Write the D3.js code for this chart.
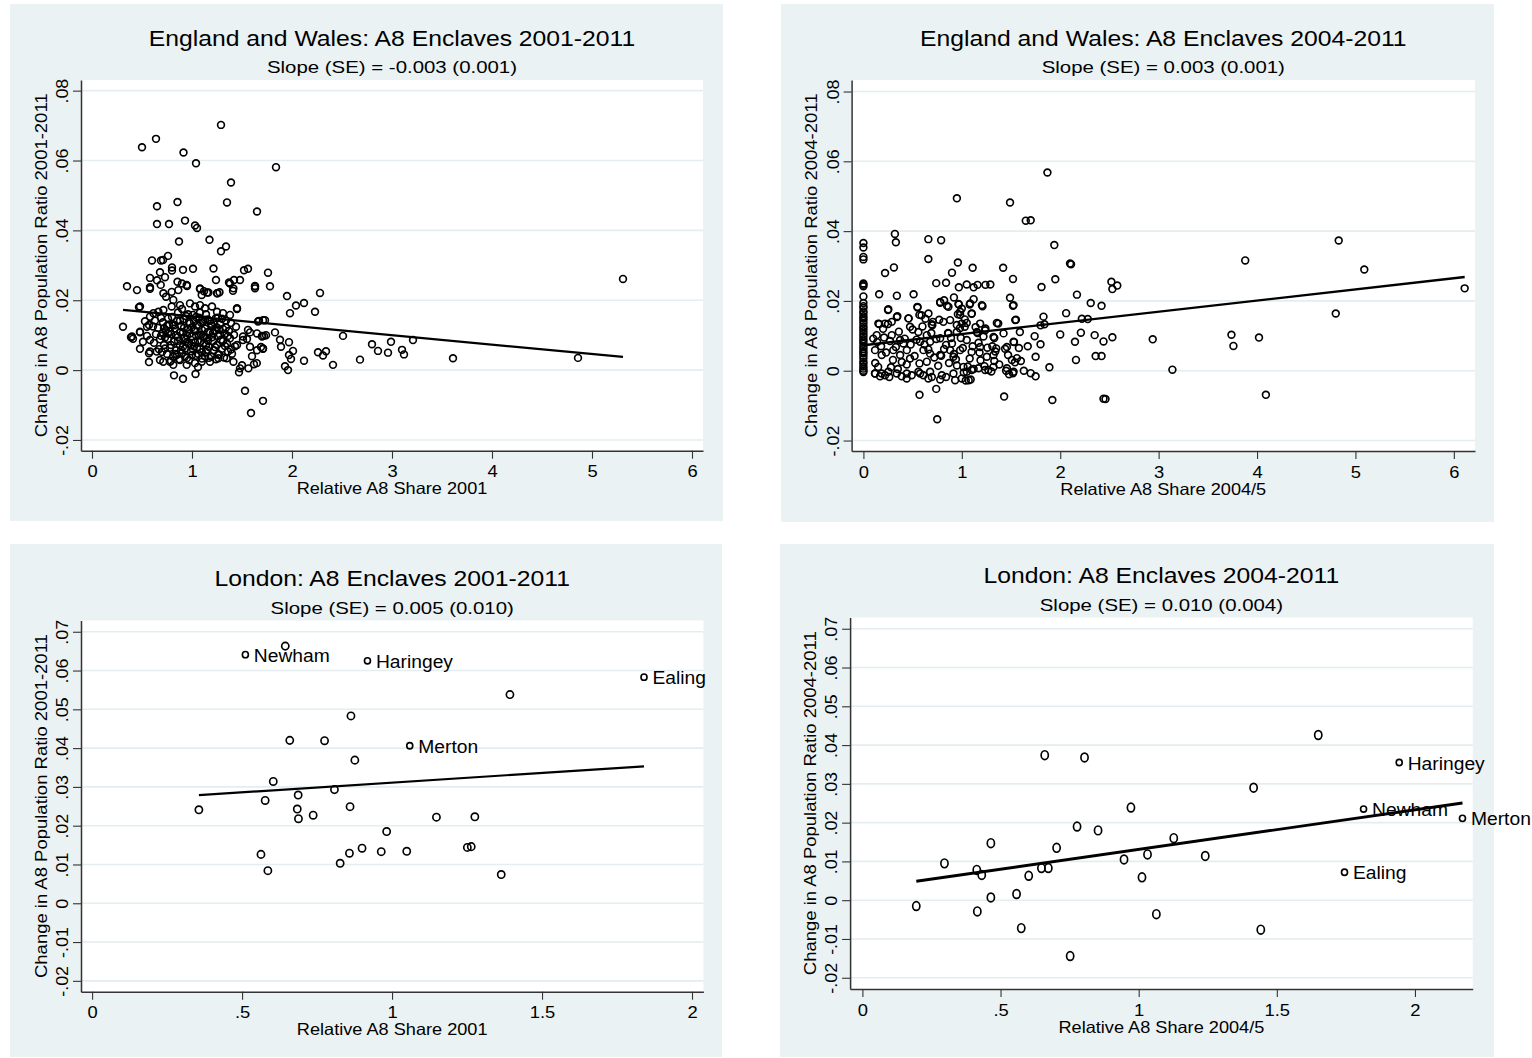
<!DOCTYPE html>
<html><head><meta charset="utf-8">
<script src="https://cdn.jsdelivr.net/npm/d3@7"></script>
<style>
body{margin:0;background:#fff}
svg{display:block}
text{font-family:"Liberation Sans",Arial,Helvetica,sans-serif;fill:#000}
</style>
</head><body>
<svg id="c" width="1532" height="1058"></svg>
<script>
// ---------------- DATA ----------------
const titles = ["England and Wales: A8 Enclaves 2001-2011","England and Wales: A8 Enclaves 2004-2011","London: A8 Enclaves 2001-2011","London: A8 Enclaves 2004-2011"];
const subtitles = ["Slope (SE) = -0.003 (0.001)","Slope (SE) = 0.003 (0.001)","Slope (SE) = 0.005 (0.010)","Slope (SE) = 0.010 (0.004)"];
const xTitles = ["Relative A8 Share 2001","Relative A8 Share 2004/5","Relative A8 Share 2001","Relative A8 Share 2004/5"];
const yTitles = ["Change in A8 Population Ratio 2001-2011","Change in A8 Population Ratio 2004-2011","Change in A8 Population Ratio 2001-2011","Change in A8 Population Ratio 2004-2011"];
const xTicksEW = [0,1,2,3,4,5,6];
const xTickLabelsEW = ["0","1","2","3","4","5","6"];
const xTicksLon = [0,0.5,1,1.5,2];
const xTickLabelsLon = ["0",".5","1","1.5","2"];
const yTicksEW = [-0.02,0,0.02,0.04,0.06,0.08];
const yTickLabelsEW = ["-.02","0",".02",".04",".06",".08"];
const yTicksLon = [-0.02,-0.01,0,0.01,0.02,0.03,0.04,0.05,0.06,0.07];
const yTickLabelsLon = ["-.02","-.01","0",".01",".02",".03",".04",".05",".06",".07"];
const xDomains = [[-0.11,6.11],[-0.12,6.215],[-0.037,2.038],[-0.0445,2.209]];
const yDomains = [[-0.02307,0.08305],[-0.023,0.0833],[-0.0228,0.0729],[-0.0229,0.0729]];
const fitIntercept = [0.0181,0.0073,0.0261,0.0029];
const fitSlope = [-0.0027,0.0032,0.0050,0.0102];

// England and Wales, 2001 share vs change 2001-2011
const ew0111 = [
[1.29,0.0702],[0.64,0.0662],[0.50,0.0638],[0.915,0.0623],[1.04,0.0592],[1.84,0.0581],[1.39,0.0537],[0.65,0.0469],[0.855,0.0481],[1.35,0.0480],
[1.65,0.0454],[0.65,0.0418],[0.77,0.0418],[0.93,0.0428],[1.03,0.0414],[1.05,0.0407],[0.87,0.0368],[1.175,0.0373],[1.34,0.0354],[1.29,0.0340],
[0.76,0.0327],[0.60,0.0314],[0.69,0.0314],[0.71,0.0315],[0.80,0.0294],[0.80,0.0285],[0.91,0.0287],[1.01,0.0290],[1.215,0.0291],[1.24,0.0258],
[0.68,0.0280],[0.58,0.0264],[0.65,0.0257],[0.73,0.0266],[0.855,0.0253],[0.90,0.0248],[0.95,0.0241],[0.35,0.0240],[0.58,0.0233],[0.45,0.0229],
[1.08,0.0232],[1.12,0.0226],[1.15,0.0222],[1.25,0.0220],[1.275,0.0223],[1.37,0.0251],[1.42,0.0258],[1.48,0.0258],[1.52,0.0286],[1.56,0.0290],
[1.63,0.0241],[1.63,0.0234],[1.76,0.0279],[1.78,0.0240],[1.41,0.0227],[1.95,0.0212],[2.28,0.0221],[2.04,0.0185],[2.12,0.0192],[1.98,0.0163],
[2.23,0.0167],[1.45,0.0175],[0.47,0.0180],[0.31,0.0124],[0.39,0.0094],[0.41,0.0090],[0.48,0.0108],[0.57,0.0129],[0.55,0.0124],[0.48,0.0061],
[0.57,0.0023],[0.57,0.0048],[0.82,-0.0015],[0.91,-0.0025],[1.035,-0.0011],[1.06,0.0009],[1.47,-0.0006],[1.50,0.0014],[1.62,0.0017],[1.93,0.0011],
[1.96,0.0000],[2.12,0.0027],[2.26,0.0051],[2.31,0.0042],[2.34,0.0054],[1.88,0.0087],[1.89,0.0067],[1.97,0.0080],[1.97,0.0043],[2.01,0.0055],
[1.99,0.0032],[1.70,0.0098],[1.72,0.0098],[1.74,0.0100],[1.83,0.0108],[1.67,0.0141],[1.73,0.0143],[1.69,0.0066],[1.71,0.0061],[1.60,0.0040],
[1.55,0.0089],[1.58,0.0108],[2.51,0.0098],[2.68,0.0030],[2.41,0.0015],[2.80,0.0074],[2.86,0.0055],[2.96,0.0050],[2.99,0.0081],[3.10,0.0058],
[3.12,0.0045],[3.21,0.0086],[3.61,0.0034],[4.86,0.0035],[5.31,0.0261],[1.53,-0.0059],[1.71,-0.0088],[1.59,-0.0123],
[0.58,0.0237],[0.687,0.0244],[0.714,0.0220],[0.74,0.0210],[0.797,0.0224],[0.813,0.0201],[0.863,0.0229],[0.947,0.0244],[1.08,0.0234],[1.097,0.0215],
[1.164,0.0222],[1.254,0.0220],[1.38,0.0248],[1.414,0.0234],[1.63,0.0239],[0.48,0.0182],[0.58,0.0153],[0.614,0.0163],[0.664,0.0167],[0.714,0.0172],
[0.797,0.0182],[0.88,0.0186],[0.98,0.0191],[1.03,0.0182],[1.08,0.0186],[1.13,0.0177],[1.20,0.0182],[1.25,0.0167],[1.31,0.0163],[1.38,0.0158],
[1.45,0.0177],[1.66,0.0139],[1.71,0.0143],[0.40,0.0096],[0.48,0.0110],[0.51,0.0081],[0.58,0.0086],[0.647,0.0053],[0.58,0.0053],[0.68,0.0029],
[0.713,0.0024],[0.78,0.0024],[0.813,0.0015],[0.88,0.0029],[0.947,0.0015],[1.03,0.0020],[1.097,0.0024],[1.18,0.0024],[1.264,0.0034],[1.347,0.0034],
[1.414,0.0024],[1.48,0.0005],[1.564,0.0005],[1.648,0.0020],[1.45,0.0072],[1.51,0.0086],[1.58,0.0067],[1.65,0.0057],[1.71,0.0062],[1.70,0.0096],
[1.65,0.0105],[1.56,0.0115],[1.51,0.0096],
[0.66,0.0121],[0.69,0.0098],[0.71,0.0137],[0.72,0.0072],[0.74,0.0114],[0.75,0.0046],[0.76,0.0089],[0.77,0.0131],[0.78,0.0064],[0.79,0.0103],
[0.80,0.0152],[0.81,0.0038],[0.82,0.0082],[0.83,0.0119],[0.84,0.0057],[0.85,0.0141],[0.86,0.0095],[0.87,0.0031],[0.88,0.0071],[0.89,0.0126],
[0.90,0.0049],[0.91,0.0108],[0.92,0.0146],[0.93,0.0062],[0.94,0.0088],[0.95,0.0035],[0.96,0.0117],[0.97,0.0076],[0.98,0.0134],[0.99,0.0054],
[1.00,0.0097],[1.01,0.0158],[1.02,0.0068],[1.03,0.0112],[1.04,0.0041],[1.05,0.0129],[1.06,0.0085],[1.07,0.0150],[1.08,0.0060],[1.09,0.0102],
[1.10,0.0033],[1.11,0.0138],[1.12,0.0078],[1.13,0.0119],[1.14,0.0052],[1.15,0.0093],[1.16,0.0145],[1.17,0.0066],[1.18,0.0108],[1.19,0.0039],
[1.20,0.0127],[1.21,0.0083],[1.22,0.0057],[1.23,0.0114],[1.24,0.0149],[1.25,0.0072],[1.26,0.0098],[1.27,0.0045],[1.28,0.0131],[1.29,0.0087],
[1.30,0.0061],[1.31,0.0118],[1.32,0.0036],[1.33,0.0104],[1.34,0.0142],[1.35,0.0076],[1.36,0.0053],[1.37,0.0112],[1.38,0.0091],[1.39,0.0135],
[1.40,0.0047],[1.42,0.0101],[1.43,0.0068],[1.44,0.0124],[0.70,0.0052],[0.73,0.0093],[0.76,0.0148],[0.79,0.0027],[0.82,0.0128],[0.85,0.0044],
[0.88,0.0109],[0.91,0.0067],[0.94,0.0155],[0.97,0.0029],[1.00,0.0123],[1.03,0.0079],[1.06,0.0047],[1.09,0.0136],[1.12,0.0093],[1.15,0.0058],
[1.18,0.0141],[1.21,0.0106],[1.24,0.0031],[1.27,0.0116],[1.30,0.0147],[1.33,0.0069],[0.92,0.0092],[0.98,0.0105],[1.04,0.0099],[1.10,0.0115],
[1.16,0.0084],[1.22,0.0137],[1.02,0.0140],[0.96,0.0160],[1.08,0.0165],[1.14,0.0160],[0.86,0.0165],[0.90,0.0175],[1.26,0.0150],[0.95,0.0080],
[1.01,0.0060],[1.07,0.0100],[1.13,0.0040],[0.84,0.0100],[0.78,0.0110],[0.72,0.0120],
[0.76,0.0105],[0.79,0.0072],[0.81,0.0131],[0.83,0.0046],[0.86,0.0084],[0.88,0.0142],[0.89,0.0058],[0.92,0.0121],[0.93,0.0039],[0.95,0.0099],
[0.97,0.0138],[0.99,0.0071],[1.00,0.0043],[1.02,0.0115],[1.04,0.0152],[1.05,0.0064],[1.07,0.0127],[1.08,0.0081],[1.10,0.0051],[1.11,0.0096],
[1.13,0.0144],[1.14,0.0072],[1.16,0.0109],[1.17,0.0035],[1.19,0.0133],[1.20,0.0094],[1.23,0.0066],[1.25,0.0122],[1.26,0.0044],[1.28,0.0101],
[1.31,0.0083],[1.34,0.0122],[1.36,0.0098],[1.39,0.0059],[0.68,0.0088],[0.71,0.0107],[0.73,0.0062],[0.75,0.0127],[0.64,0.0103],[0.62,0.0078],
[0.61,0.0125],[0.63,0.0142],[0.67,0.0060],[0.69,0.0150],[0.55,0.0098],[0.53,0.0140]
];

// England and Wales, 2004/5 share vs change 2004-2011
const ew0411 = [
[0,0.0366],[0,0.0353],[0,0.0326],[0,0.0319],[0,0.0250],[0,0.0246],[0,0.0242],[0,0.0213],[0,0.0194],[0,0.0185],
[0,0.0180],[0,0.0170],[0,0.0165],[0,0.0156],[0,0.0150],[0,0.0143],[0,0.0135],[0,0.0127],[0,0.0120],[0,0.0113],
[0,0.0105],[0,0.0098],[0,0.0090],[0,0.0084],[0,0.0077],[0,0.0069],[0,0.0062],[0,0.0055],[0,0.0050],[0,0.0043],
[0,0.0035],[0,0.0026],[0,0.0020],[0,0.0012],[0,0.0006],[0,0.0000],[0,-0.0004],
[1.87,0.0568],[0.95,0.0494],[1.49,0.0482],[1.65,0.0430],[1.70,0.0431],[0.32,0.0392],[0.33,0.0368],[0.66,0.0377],[0.79,0.0374],[1.94,0.0360],
[4.83,0.0373],[3.88,0.0316],[5.09,0.0290],[6.11,0.0236],[4.80,0.0164],[3.74,0.0103],[3.76,0.0071],[4.02,0.0095],[4.09,-0.0069],[3.14,0.0003],
[2.94,0.0090],[2.53,0.0096],[2.44,-0.0080],[2.46,-0.0081],[1.92,-0.0084],[1.43,-0.0074],[0.75,-0.0139],[0.57,-0.0069],[0.74,-0.0052],[2.52,0.0255],
[2.53,0.0234],[2.58,0.0244],[2.42,0.0186],[2.31,0.0194],[2.17,0.0218],[2.10,0.0307],[2.11,0.0305],[1.95,0.0262],[1.81,0.0240],[1.52,0.0263],
[1.42,0.0295],[1.49,0.0209],[1.52,0.0186],[1.55,0.0146],[1.59,0.0111],[1.37,0.0135],[1.33,0.0094],[1.35,0.0064],[1.34,0.0055],[1.31,0.0070],
[1.44,0.0063],[1.47,0.0045],[1.53,0.0082],[1.56,0.0036],[1.54,0.0024],[1.60,0.0028],[1.58,0.0065],[1.63,0.0000],[1.70,-0.0007],[1.75,-0.0016],
[1.45,0.0000],[1.48,-0.0010],[1.52,-0.0007],[1.89,0.0010],[1.74,0.0099],[1.75,0.0040],[1.67,0.0070],[1.80,0.0076],[1.83,0.0155],[1.84,0.0133],
[1.80,0.0130],[2.00,0.0104],[2.06,0.0165],[2.15,0.0083],[2.16,0.0031],[2.22,0.0149],[2.28,0.0148],[2.21,0.0109],[2.35,0.0102],[2.36,0.0042],
[2.42,0.0042],[2.44,0.0084],[1.11,0.0295],[1.12,0.0239],[1.16,0.0246],[1.24,0.0246],[1.29,0.0247],[1.21,0.0185],[1.12,0.0205],[1.05,0.0247],
[0.97,0.0239],[0.96,0.0310],[0.90,0.0281],[0.84,0.0252],[0.74,0.0251],[0.66,0.0320],[0.31,0.0296],[0.22,0.0280],[0.16,0.0219],[0.34,0.0215],
[0.51,0.0219],[0.25,0.0174],[0.34,0.0154],[0.16,0.0134],[0.25,0.0134],[0.55,0.0181],[0.59,0.0159],[0.46,0.0150],[0.63,0.0149],[0.70,0.0130],
[0.77,0.0146],[0.78,0.0197],[0.82,0.0202],[0.92,0.0210],[0.85,0.0186],[0.97,0.0190],[1.00,0.0178],[1.03,0.0147],[1.08,0.0190],[1.10,0.0163],
[0.96,0.0162],[1.00,0.0135],[1.03,0.0126],[1.24,0.0121],[1.16,0.0108],[1.17,0.0080],[1.11,0.0070],[0.99,0.0094],[1.01,0.0065],[0.86,0.0108],
[0.84,0.0074],[0.92,0.0048],[0.94,0.0033],[0.79,0.0043],[0.89,0.0094],
[0.253,0.0176],[0.549,0.0183],[0.78,0.0195],[0.864,0.0183],[0.966,0.0191],[0.983,0.0169],[1.085,0.0193],[1.204,0.0188],[1.526,0.0188],
[0.152,0.0135],[0.22,0.0135],[0.288,0.0140],[0.345,0.0156],[0.457,0.0150],[0.474,0.0126],[0.569,0.0160],[0.661,0.0164],[0.705,0.0140],[0.695,0.0133],
[0.813,0.0140],[0.881,0.0145],[0.949,0.0131],[0.983,0.0160],[1.05,0.0137],[1.101,0.0164],[1.186,0.0135],[1.356,0.0137],[1.543,0.0145],
[0.135,0.0102],[0.288,0.0102],[0.373,0.0088],[0.406,0.0078],[0.559,0.0111],[0.644,0.0102],[0.576,0.0083],[0.678,0.0083],[0.78,0.0093],[0.864,0.0107],
[0.949,0.0111],[1.153,0.0111],[1.237,0.0116],[1.322,0.0097],[1.424,0.0107],[1.526,0.0083],
[0.118,0.0059],[0.186,0.0045],[0.304,0.0059],[0.373,0.0045],[0.441,0.0059],[0.474,0.0035],[0.61,0.0059],[0.678,0.0049],[0.644,0.0026],[0.78,0.0045],
[0.881,0.0059],[0.915,0.0040],[0.983,0.0059],[1.10,0.0054],[1.186,0.0068],[1.254,0.0040],[1.322,0.0045],[1.458,0.0068],[1.509,0.0031],
[0.118,-0.0008],[0.186,-0.0008],[0.253,-0.0003],[0.339,-0.0008],[0.441,-0.0008],[0.559,-0.0003],[0.61,-0.0013],[0.678,-0.0003],[0.797,-0.0013],[0.915,-0.0008],
[1.017,0.0011],[1.05,-0.0003],[1.169,0.0007],[1.237,0.0002],[1.322,0.0011],[1.458,0.0007],[1.526,-0.0003],
[0.118,-0.0008],[0.169,-0.0016],[0.220,-0.0013],[0.263,-0.0018],[0.389,-0.0016],[0.440,-0.0022],[0.491,-0.0013],[0.576,-0.0008],[0.660,-0.0022],[0.695,-0.0018],
[0.780,-0.0025],[0.840,-0.0018],[0.932,-0.0027],[1.00,-0.0022],[1.07,-0.0027],[1.10,0.0002],
[1.02,-0.0005],[1.06,0.0012],[1.09,-0.0025],[1.04,-0.0028],[1.12,0.0005],[1.19,0.0030],[1.23,0.0013],[1.27,0.0002],[1.30,-0.0002],[1.38,0.0018],[1.33,0.0028],
[0.10,0.0092],[0.14,0.0082],[0.18,0.0070],[0.21,0.0095],[0.23,0.0052],[0.27,0.0085],[0.30,0.0031],[0.33,0.0068],[0.36,0.0112],[0.39,0.0025],
[0.42,0.0092],[0.44,0.0018],[0.48,0.0075],[0.50,0.0118],[0.52,0.0042],[0.54,0.0089],[0.57,0.0021],[0.60,0.0127],[0.62,0.0075],[0.66,0.0061],
[0.69,0.0108],[0.72,0.0038],[0.74,0.0091],[0.76,0.0014],[0.82,0.0062],[0.87,0.0022],[0.90,0.0078],[0.95,0.0015],[0.98,0.0122],[1.05,0.0088],
[1.08,0.0035],[1.14,0.0125],[1.18,0.0052],[1.22,0.0098],[1.26,0.0066],[0.12,0.0022],[0.15,0.0011],[0.20,0.0120],[0.28,0.0010],[0.35,0.0005]
];

// London boroughs, 2001 share vs change 2001-2011 (third field = label shown)
const lon0111 = [
[0.511,0.0641,"Newham"],[0.644,0.0663,""],[0.918,0.0625,"Haringey"],[1.84,0.0583,"Ealing"],[1.393,0.0538,""],[0.863,0.0483,""],[0.659,0.0420,""],
[0.775,0.0419,""],[1.059,0.0406,"Merton"],[0.876,0.0369,""],[0.604,0.0314,""],[0.808,0.0293,""],[0.687,0.0279,""],[0.577,0.0265,""],
[0.356,0.0241,""],[0.684,0.0243,""],[0.860,0.0249,""],[0.737,0.0227,""],[0.688,0.0218,""],[1.148,0.0222,""],[1.276,0.0223,""],
[0.982,0.0185,""],[0.900,0.0142,""],[0.858,0.0129,""],[0.964,0.0133,""],[1.049,0.0134,""],[1.251,0.0144,""],[1.264,0.0146,""],
[0.563,0.0126,""],[0.827,0.0103,""],[0.586,0.0084,""],[1.364,0.0074,""]
];

// London boroughs, 2004/5 share vs change 2004-2011
const lon0411 = [
[0.195,-0.0015,""],[0.297,0.0095,""],[0.414,0.0078,""],[0.432,0.0065,""],[0.416,-0.0029,""],[0.465,0.0147,""],[0.465,0.0007,""],
[0.558,0.0016,""],[0.575,-0.0072,""],[0.602,0.0063,""],[0.648,0.0083,""],[0.673,0.0083,""],[0.660,0.0374,""],[0.703,0.0135,""],
[0.752,-0.0144,""],[0.777,0.0190,""],[0.804,0.0368,""],[0.853,0.0180,""],[0.947,0.0105,""],[0.972,0.0239,""],[1.012,0.0059,""],
[1.032,0.0118,""],[1.064,-0.0036,""],[1.127,0.0160,""],[1.241,0.0114,""],[1.416,0.0290,""],[1.442,-0.0076,""],[1.650,0.0426,""],
[1.745,0.0072,"Ealing"],[1.814,0.0235,"Newham"],[1.943,0.0355,"Haringey"],[2.172,0.0211,"Merton"]
];

// ---------------- LAYOUT ----------------
const panels = [
  {data: ew0111, bg:[10,4,723,521],  plot:[81,80,703,450.7],    xt:xTicksEW,  xl:xTickLabelsEW,  yt:yTicksEW,  yl:yTickLabelsEW,  r:[3.4,3.4], lw:2.3},
  {data: ew0411, bg:[781,4,1494,522], plot:[851.6,80,1475,451], xt:xTicksEW,  xl:xTickLabelsEW,  yt:yTicksEW,  yl:yTickLabelsEW,  r:[3.4,3.4], lw:2.3},
  {data: lon0111, bg:[10,544,722,1057], plot:[81,620.5,703.4,991.7], xt:xTicksLon, xl:xTickLabelsLon, yt:yTicksLon, yl:yTickLabelsLon, r:[3.6,3.7], lw:2.2},
  {data: lon0411, bg:[780,544,1494,1057], plot:[850.1,617.5,1472.7,989], xt:xTicksLon, xl:xTickLabelsLon, yt:yTicksLon, yl:yTickLabelsLon, r:[3.6,4.4], lw:2.9}
];
const BG = "#eaf2f3", AX = "#333";
const svg = d3.select("#c");

function stretch(sel, f){
  sel.each(function(){
    const L = this.getComputedTextLength();
    if (L > 0) d3.select(this).attr("textLength", L*f).attr("lengthAdjust","spacingAndGlyphs");
  });
}

panels.forEach((p,i)=>{
  const [bx0,by0,bx1,by1] = p.bg, [px0,py0,px1,py1] = p.plot;
  svg.append("rect").attr("x",bx0).attr("y",by0).attr("width",bx1-bx0).attr("height",by1-by0).attr("fill",BG);
  svg.append("rect").attr("x",px0).attr("y",py0).attr("width",px1-px0).attr("height",py1-py0).attr("fill","#fff");
  const x = d3.scaleLinear().domain(xDomains[i]).range([px0,px1]);
  const y = d3.scaleLinear().domain(yDomains[i]).range([py1,py0]);
  const g = svg.append("g");
  // gridlines
  g.selectAll("line.grid").data(p.yt).join("line").attr("class","grid")
    .attr("x1",px0).attr("x2",px1).attr("y1",d=>y(d)).attr("y2",d=>y(d))
    .attr("stroke","#e4edef").attr("stroke-width",1.6);
  // axes
  const xa = g.append("g").attr("transform",`translate(0,${py1})`)
    .call(d3.axisBottom(x).tickValues(p.xt).tickFormat((d,k)=>p.xl[k]).tickSize(8).tickSizeOuter(0));
  const ya = g.append("g").attr("transform",`translate(${px0},0)`)
    .call(d3.axisLeft(y).tickValues(p.yt).tickFormat((d,k)=>p.yl[k]).tickSize(8).tickSizeOuter(0));
  [xa,ya].forEach(a=>{
    a.attr("font-family",null).attr("font-size",null);
    a.select(".domain").attr("stroke",AX).attr("stroke-width",1.5);
    a.selectAll(".tick line").attr("stroke",AX).attr("stroke-width",1.1);
  });
  xa.selectAll(".tick text").attr("y",26.8).attr("dy",null).style("font-size","17px").attr("fill","#000");
  ya.selectAll(".tick text").attr("x",0).attr("dy",null).attr("y",-12.7).attr("transform","rotate(-90)")
    .attr("text-anchor","middle").style("font-size","17px").attr("fill","#000");
  stretch(xa.selectAll(".tick text"),1.08);
  stretch(ya.selectAll(".tick text"),1.05);

  // markers
  const pts = g.append("g");
  pts.selectAll("ellipse").data(p.data).join("ellipse")
    .attr("cx",d=>x(d[0])).attr("cy",d=>y(d[1]))
    .attr("rx",d=>d[2]?3.0:p.r[0]).attr("ry",d=>d[2]?3.1:p.r[1])
    .attr("fill","none").attr("stroke","#000").attr("stroke-width",1.65);
  // labels
  const lab = g.append("g").selectAll("text").data(p.data.filter(d=>d[2])).join("text")
    .attr("x",d=>x(d[0])+8.5).attr("y",d=>y(d[1])+7).style("font-size","17.5px").text(d=>d[2]);
  stretch(lab,1.1);

  // fit line
  const ext = d3.extent(p.data,d=>d[0]);
  g.append("line")
    .attr("x1",x(ext[0])).attr("y1",y(fitIntercept[i]+fitSlope[i]*ext[0]))
    .attr("x2",x(ext[1])).attr("y2",y(fitIntercept[i]+fitSlope[i]*ext[1]))
    .attr("stroke","#000").attr("stroke-width",p.lw);

  // titles
  const cx = (px0+px1)/2, cy = (py0+py1)/2;
  stretch(svg.append("text").attr("x",cx).attr("y",py0-34.3).attr("text-anchor","middle").style("font-size","21.7px").text(titles[i]),1.14);
  stretch(svg.append("text").attr("x",cx).attr("y",py0-6.8).attr("text-anchor","middle").style("font-size","17px").text(subtitles[i]),1.2);
  stretch(svg.append("text").attr("x",cx).attr("y",py1+43.5).attr("text-anchor","middle").style("font-size","16.5px").text(xTitles[i]),1.1);
  stretch(svg.append("text").attr("transform",`translate(${px0-34.3},${cy}) rotate(-90)`).attr("text-anchor","middle").style("font-size","16.5px").text(yTitles[i]),1.12);
});
</script>
</body></html>
